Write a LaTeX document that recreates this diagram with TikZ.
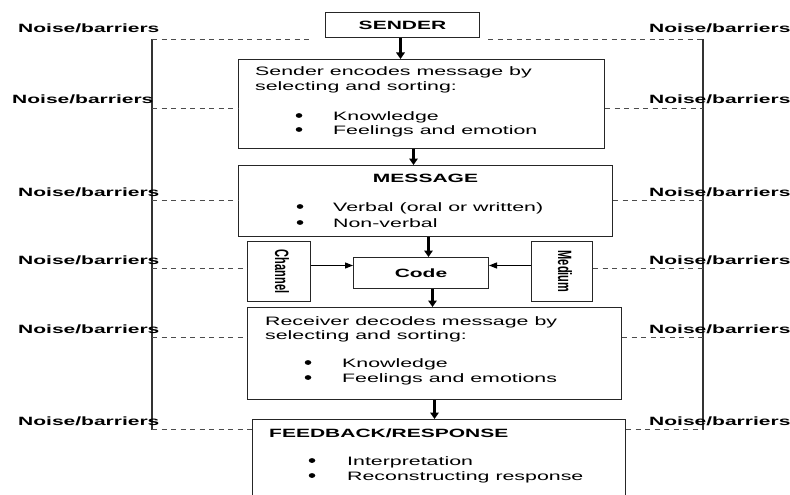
\documentclass[tikz,border=0pt]{standalone}
\usepackage{fontspec}
\setmainfont{Liberation Sans}[FakeStretch=1.75]
\newfontfamily\uprightsans{Liberation Sans}
\usetikzlibrary{arrows.meta,calc,shapes.geometric}
\begin{document}
\begin{tikzpicture}[x=1pt,y=-1pt,
  box/.style={draw=black!85,line width=1pt,inner sep=0pt,anchor=north west},
  bbox/.style={box,font=\bfseries\fontsize{12}{14}\selectfont},
  txt/.style={inner sep=0pt,anchor=base west,font=\fontsize{12.2}{15}\selectfont},
  head/.style={inner sep=0pt,anchor=base west,font=\bfseries\fontsize{12}{14}\selectfont},
  dot/.style={ellipse,fill=black,inner sep=0pt,minimum width=6.5pt,minimum height=4.8pt},
  noise/.style={inner sep=0pt,anchor=base west,font=\bfseries\fontsize{12}{14}\selectfont},
  vtext/.style={inner sep=0pt,rotate=-90},
  flow/.style={-{Triangle[width=8.5pt,length=6.5pt]},line width=2.2pt},
  feed/.style={-{Triangle[width=6pt,length=8pt]},line width=1.2pt},
  barrier/.style={draw=black!70,line width=0.9pt,dash pattern=on 5pt off 4.5pt},
  frame/.style={draw=black!80,line width=1.2pt}]
\useasboundingbox (0,0) rectangle (790,495);
\clip (0,0) rectangle (790,495);

% boxes of the chain
\node[bbox,minimum width=154pt,minimum height=25pt] (sender) at (325,12) {SENDER};
\node[box,minimum width=366pt,minimum height=89pt] (enc) at (238,59) {};
\node[box,minimum width=374pt,minimum height=71pt] (msg) at (238,165) {};
\node[box,minimum width=63pt,minimum height=60pt] (channel) at (247,241) {};
\node[bbox,minimum width=135pt,minimum height=31pt] (code) at (353,257) {Code};
\node[box,minimum width=61pt,minimum height=60pt] (medium) at (531,241) {};
\node[box,minimum width=374pt,minimum height=92pt] (recv) at (247,307) {};
\node[box,minimum width=373pt,minimum height=100pt] (fb) at (252,419) {};

% box contents
\node[txt] (encA) at (255,76) {Sender encodes message by};
\node[txt] (encB) at (255,91) {selecting and sorting:};
\node[dot] (encD1) at (299,115.5) {};
\node[txt] (encC) at (333,120) {Knowledge};
\node[dot] (encD2) at (299,129.5) {};
\node[txt] (encE) at (333,134) {Feelings and emotion};

\node[head,anchor=base] (msgT) at (425.5,182) {MESSAGE};
\node[dot] (msgD1) at (300,206.5) {};
\node[txt] (msgA) at (333,211) {Verbal (oral or written)};
\node[dot] (msgD2) at (300,222.5) {};
\node[txt] (msgB) at (333,227) {Non-verbal};

\node[vtext] (chT) at ($(channel.center)+(3,0)$) {\scalebox{1}[1.75]{\uprightsans\bfseries\fontsize{11}{13}\selectfont Channel}};
\node[vtext] (mdT) at ($(medium.center)+(3,0)$) {\scalebox{1}[1.75]{\uprightsans\bfseries\fontsize{11}{13}\selectfont Medium}};

\node[txt] (recA) at (265,325) {Receiver decodes message by};
\node[txt] (recB) at (265,339) {selecting and sorting:};
\node[dot] (recD1) at (308,362.5) {};
\node[txt] (recC) at (342,367) {Knowledge};
\node[dot] (recD2) at (308,377.5) {};
\node[txt] (recE) at (342,382) {Feelings and emotions};

\node[head] (fbT) at (269,437) {FEEDBACK/RESPONSE};
\node[dot] (fbD1) at (312,460.5) {};
\node[txt] (fbA) at (347,465) {Interpretation};
\node[dot] (fbD2) at (312,475.5) {};
\node[txt] (fbB) at (347,480) {Reconstructing response};

% flow of the message
\draw[flow] ($(sender.south)+(-2,0)$) -- ($(enc.north)+(-21,0)$);
\draw[flow] ($(enc.south)+(-8,0)$) -- ($(msg.north)+(-12,0)$);
\draw[flow] ($(msg.south)+(3,0)$) -- ($(code.north)+(7.5,0)$);
\draw[flow] ($(code.south)+(11.5,0)$) -- ($(recv.north)+(-2,0)$);
\draw[flow] (recv.south) -- ($(fb.north)+(-4.5,0)$);
\draw[feed] ($(channel.east)+(0,-6)$) -- ($(code.west)+(0,-7.5)$);
\draw[feed] ($(medium.west)+(0,-6)$) -- ($(code.east)+(0,-7.5)$);

% noise frame
\coordinate (L0) at (152,39);   \coordinate (R0) at (703,39);
\coordinate (L1) at (152,108);  \coordinate (R1) at (703,108);
\coordinate (L2) at (152,200.5);\coordinate (R2) at (703,200.5);
\coordinate (L3) at (152,268.5);\coordinate (R3) at (703,268.5);
\coordinate (L4) at (152,337);  \coordinate (R4) at (703,337);
\coordinate (L5) at (152,429.5);\coordinate (R5) at (703,429.5);
\draw[frame] (L0) -- (L5);
\draw[frame] (R0) -- (R5);
\draw[barrier] (L0) -- ($(L0 -| sender.west)+(-12,0)$);
\draw[barrier] ($(R0 -| sender.east)+(8,0)$) -- (R0);
\draw[barrier] (L1) -- (L1 -| enc.west);
\draw[barrier] (enc.east |- R1) -- (R1);
\draw[barrier] (L2) -- (L2 -| msg.west);
\draw[barrier] (msg.east |- R2) -- (R2);
\draw[barrier] (L3) -- (L3 -| channel.west);
\draw[barrier] (medium.east |- R3) -- (R3);
\draw[barrier] (L4) -- (L4 -| recv.west);
\draw[barrier] (recv.east |- R4) -- (R4);
\draw[barrier] (L5) -- (L5 -| fb.west);
\draw[barrier] (fb.east |- R5) -- (R5);

% noise labels
\node[noise] (nl0) at (18,33) {Noise/barriers};
\node[noise] (nl1) at (12,103) {Noise/barriers};
\node[noise] (nl2) at (18,196) {Noise/barriers};
\node[noise] (nl3) at (18,264) {Noise/barriers};
\node[noise] (nl4) at (18,333) {Noise/barriers};
\node[noise] (nl5) at (18,425) {Noise/barriers};
\node[noise] (nr0) at (649,33) {Noise/barriers};
\node[noise] (nr1) at (649,103) {Noise/barriers};
\node[noise] (nr2) at (649,196) {Noise/barriers};
\node[noise] (nr3) at (649,264) {Noise/barriers};
\node[noise] (nr4) at (649,333) {Noise/barriers};
\node[noise] (nr5) at (649,425) {Noise/barriers};
\end{tikzpicture}
\end{document}
